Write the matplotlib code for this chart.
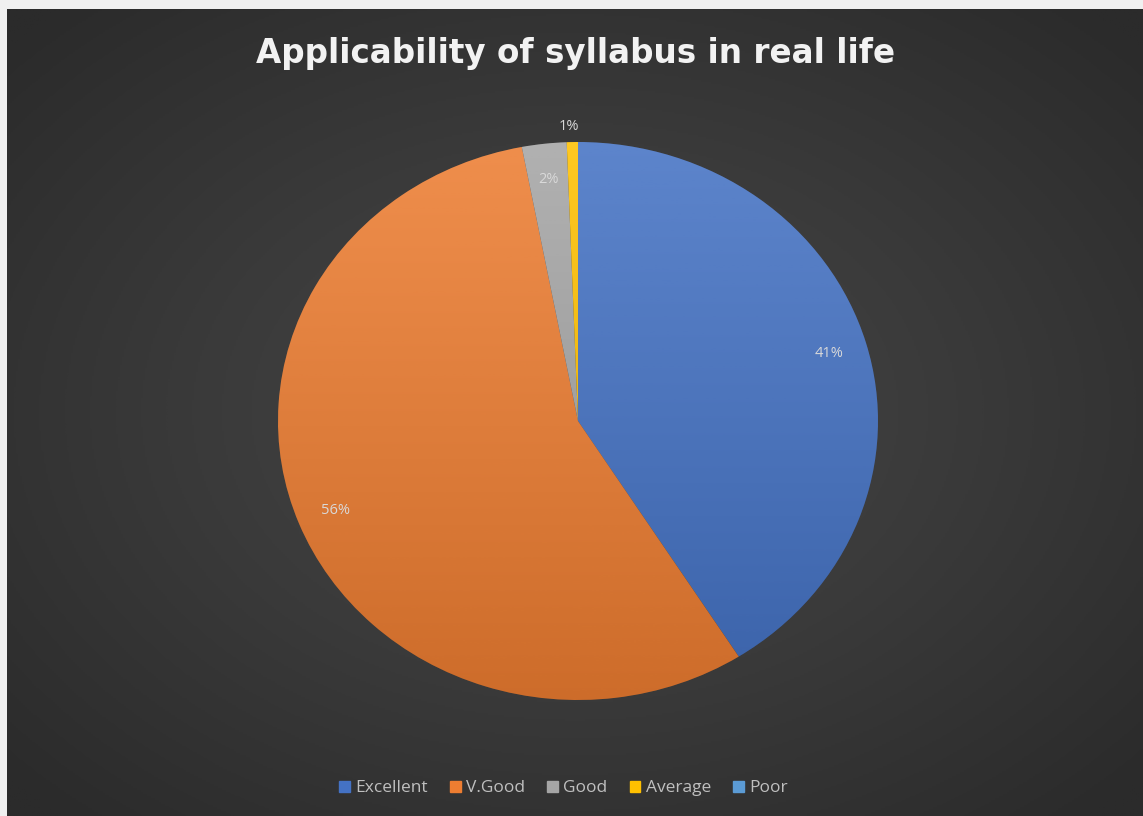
import matplotlib.pyplot as plt
import numpy as np
from matplotlib.colors import LinearSegmentedColormap

categories = ['Excellent', 'V.Good', 'Good', 'Average', 'Poor']
shares = [41, 56, 2.4, 0.6, 0]
colors = ['#4472C4', '#ED7D31', '#A5A5A5', '#FFC000', '#5B9BD5']

W, H = 1143, 816
fig = plt.figure(figsize=(W / 100, H / 100), dpi=100)
fig.patch.set_facecolor('#f0f0f0')

# dark radial backdrop, lighter in the middle
bg = fig.add_axes([7 / W, 0, 1 - 7 / W, 1 - 9 / H])
yy, xx = np.mgrid[-1:1:400j, -1:1:560j]
rr = np.sqrt(xx ** 2 + yy ** 2)
bg_cmap = LinearSegmentedColormap.from_list('bg', ['#474747', '#3a3a3a', '#2b2b2b'])
bg.imshow(rr, cmap=bg_cmap, aspect='auto', extent=[0, 1, 0, 1], vmin=0, vmax=1.35)
bg.set_xlim(0, 1)
bg.set_ylim(0, 1)
bg.axis('off')


def pct_label(p):
    return '' if p < 0.5 else f'{p:.0f}%'


ax = fig.add_axes([278 / W, 116 / H, 600 / W, 558 / H])
wedges, texts, autotexts = ax.pie(
    shares, colors=colors, startangle=90, counterclock=False,
    autopct=pct_label, pctdistance=0.87,
    wedgeprops={'linewidth': 0},
    textprops={'color': '#d9d9d9', 'fontsize': 10.5, 'family': 'Open Sans'})
ax.set_aspect('auto')
ax.set_xlim(-1, 1)
ax.set_ylim(-1, 1)

# soft vertical shading inside each slice
grad = np.linspace(1, 0, 256).reshape(-1, 1)
shade = LinearSegmentedColormap.from_list('s', ['#00000022', '#ffffff22'])
for w in wedges:
    im = ax.imshow(grad, cmap=shade, extent=[-1, 1, -1, 1], aspect='auto', zorder=w.get_zorder() + 0.1)
    im.set_clip_path(w)

# the tiny "Average" slice is labelled just outside the rim
autotexts[3].set_position((-0.03, 1.055))
for t in autotexts:
    t.set_zorder(5)

fig.text(0.5035, 0.935, 'Applicability of syllabus in real life', ha='center', va='center',
         color='#f2f2f2', fontsize=23.5, fontweight='bold', family='DejaVu Sans')

handles = [plt.Rectangle((0, 0), 1, 1, color=c) for c in colors]
fig.legend(handles, categories, loc='center', bbox_to_anchor=(0.493, 0.034), ncol=5,
           frameon=False, handlelength=0.6, handleheight=0.6, handletextpad=0.3,
           columnspacing=1.3, prop={'family': 'Open Sans', 'size': 12.5},
           labelcolor='#bfbfbf')

plt.savefig('out.png', dpi=100, facecolor=fig.get_facecolor())
